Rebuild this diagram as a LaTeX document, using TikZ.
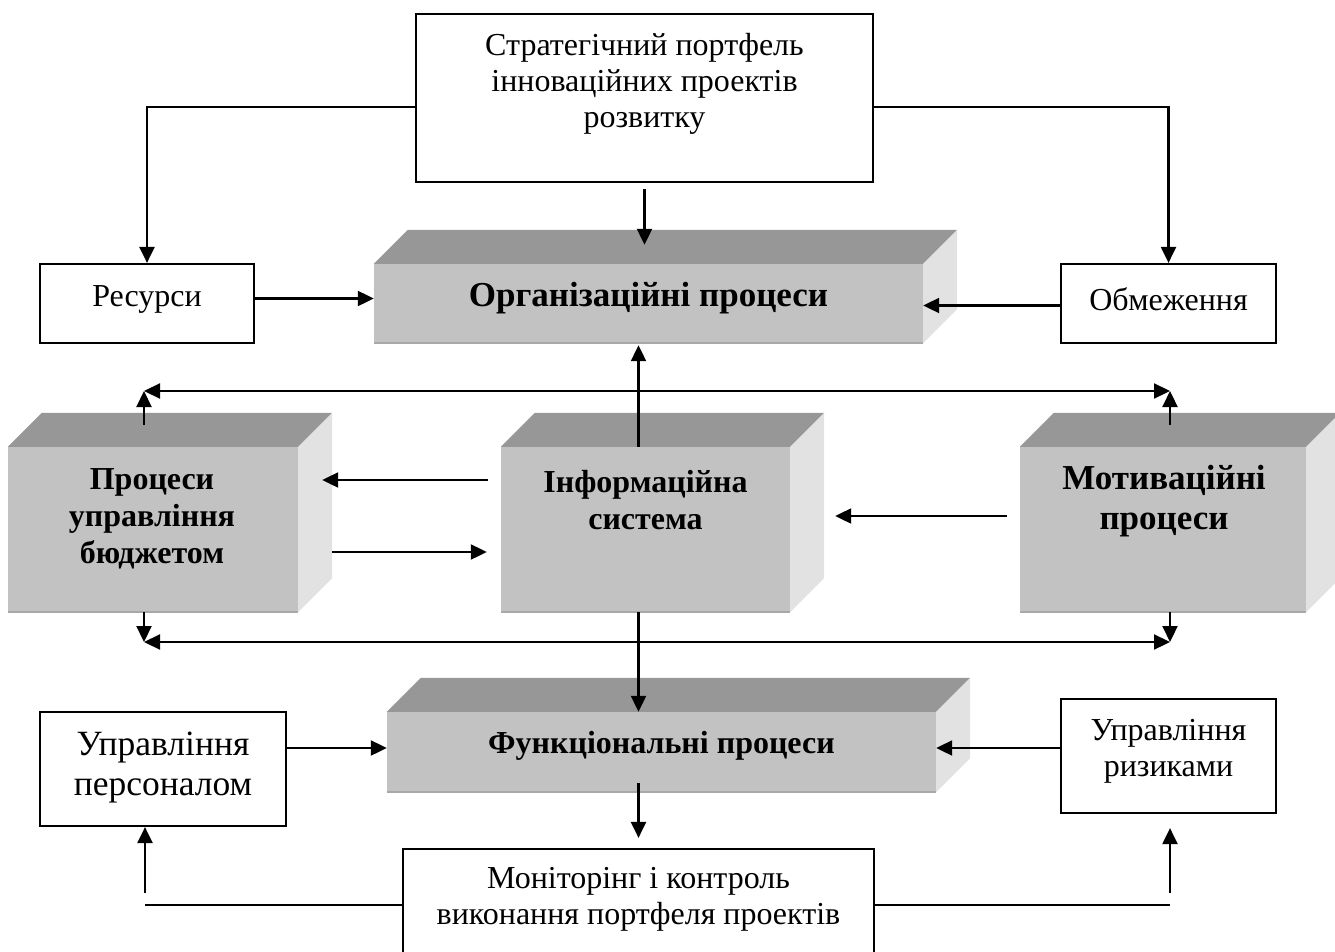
\documentclass[tikz,border=0pt]{standalone}
\usepackage{fontspec}
\setmainfont{Liberation Serif}
\usetikzlibrary{arrows.meta,calc}
\definecolor{topc}{HTML}{979797}
\definecolor{frontc}{HTML}{C2C2C2}
\definecolor{sidec}{HTML}{E2E2E2}
\definecolor{edgec}{HTML}{A8A8A8}
\begin{document}
\begin{tikzpicture}[x=1pt,y=-1pt,
  flat/.style={draw=black, line width=2.2pt, fill=white, inner sep=0pt},
  face/.style={fill=frontc, inner sep=0pt},
  txt/.style={align=center, font=\fontsize{32}{36}\selectfont, inner sep=0pt},
  btxt/.style={align=center, font=\fontsize{32}{37}\selectfont\bfseries, inner sep=0pt},
  arr/.style={line width=2.2pt, -{Triangle[length=16pt,width=15pt]}},
  arrb/.style={line width=2.2pt, {Triangle[length=16pt,width=15pt]}-{Triangle[length=16pt,width=15pt]}},
  ln/.style={line width=2.2pt}]
\useasboundingbox (0,0) rectangle (1335,952);

% flat boxes
\node[flat, minimum width=457pt, minimum height=168pt] (top) at (644.5,98) {};
\node[flat, minimum width=214pt, minimum height=79pt] (res) at (147,303.5) {};
\node[flat, minimum width=215pt, minimum height=79pt] (obm) at (1168.5,303.5) {};
\node[flat, minimum width=246pt, minimum height=114pt] (pers) at (163,769) {};
\node[flat, minimum width=215pt, minimum height=114pt] (riz) at (1168.5,756) {};
\node[flat, minimum width=471pt, minimum height=112pt] (mon) at (638.5,905) {};

% 3D boxes: front faces
\node[face, minimum width=549pt, minimum height=79pt] (org) at (648.5,303.5) {};
\node[face, minimum width=290pt, minimum height=165pt] (bud) at (153,529.5) {};
\node[face, minimum width=289pt, minimum height=165pt] (info) at (645.5,529.5) {};
\node[face, minimum width=286pt, minimum height=165pt] (mot) at (1163,529.5) {};
\node[face, minimum width=549pt, minimum height=80pt] (func) at (661.5,752) {};

\foreach \n in {org,bud,info,mot,func}{
  \fill[topc] (\n.north west) -- ++(34,-34) -- ($(\n.north east)+(34,-34)$) -- (\n.north east) -- cycle;
  \fill[sidec] (\n.north east) -- ++(34,-34) -- ($(\n.south east)+(34,-34)$) -- (\n.south east) -- cycle;
  \draw[edgec, line width=1.5pt] (\n.south west) -- (\n.south east);
}

% texts
\node[txt] (toptx) at (644.5,84) {Стратегічний портфель\\інноваційних проектів\\розвитку};
\node[txt] (restx) at (147,299) {Ресурси};
\node[txt] (obmtx) at (1168.5,299) {Обмеження};
\node[txt, font=\fontsize{35.5}{40}\selectfont] (perstx) at (163,768) {Управління\\персоналом};
\node[txt] (riztx) at (1168.5,751) {Управління\\ризиками};
\node[txt] (montx) at (638.5,899) {Моніторінг і контроль\\виконання портфеля проектів};
\node[btxt, font=\fontsize{35}{40}\selectfont\bfseries] (orgtx) at (648.5,298) {Організаційні процеси};
\node[btxt] (budtx) at (152,519) {Процеси\\управління\\бюджетом};
\node[btxt] (infotx) at (645.5,500) {Інформаційна\\система};
\node[btxt, font=\fontsize{35}{40}\selectfont\bfseries] (mottx) at (1164,501) {Мотиваційні\\процеси};
\node[btxt] (functx) at (661.5,746) {Функціональні процеси};

% connectors
\draw[arr] ([yshift=-6pt]top.south) -- ([yshift=19pt]top.south |- org.north);
\draw[arr] ([yshift=-9pt]top.west) -| (res.north);
\draw[arr] ([yshift=-9pt]top.east) -| (obm.north);
\draw[arr] ([yshift=5pt]res.east) -- ([yshift=5pt]res.east -| org.west);
\draw[arr] ([yshift=-2pt]obm.west) -- ([yshift=-2pt]obm.west -| org.east);
\draw[arr] ([xshift=-7pt]info.north) -- ([xshift=-7pt,yshift=-2pt]info.north |- org.south);

\coordinate (tl) at (144,391);
\coordinate (tr) at (1170,391);
\coordinate (bl) at (144,642);
\coordinate (br) at (1170,642);
\draw[arrb] (tl) -- (tr);
\draw[arrb] (bl) -- (br);
\draw[arr] ($(bud.north -| tl)+(0,-22)$) -- (tl);
\draw[arr] ($(mot.north -| tr)+(0,-22)$) -- (tr);
\draw[arr] (bud.south -| bl) -- (bl);
\draw[arr] (mot.south -| br) -- (br);

\draw[arr] ($(info.west)+(-13,-49.5)$) -- ($(bud.east)+(24,-49.5)$);
\draw[arr] ($(bud.east)+(34,22.5)$) -- ($(info.west)+(-14,22.5)$);
\draw[arr] ($(mot.west)+(-13,-13.5)$) -- ($(info.east)+(45,-13.5)$);
\draw[arr] ([xshift=-7pt]info.south) -- ([xshift=-7pt]info.south |- func.north);

\draw[arr] ([yshift=21pt]pers.east) -- ([yshift=21pt]pers.east -| func.west);
\draw[arr] ([yshift=8pt]riz.west) -- ([yshift=8pt]riz.west -| func.east);
\draw[arr] ([yshift=9pt]mon.north |- func.south) -- ([yshift=10pt]mon.north);

\coordinate (pl) at (145,905);
\coordinate (pr) at (1170,905);
\draw[ln] (mon.west) -- (pl);
\draw[ln] (mon.east) -- (pr);
\draw[arr] ($(pl)+(0,-12)$) -- (pl |- pers.south);
\draw[arr] ($(pr)+(0,-12)$) -- ([yshift=-14pt]pr |- riz.south);
\end{tikzpicture}
\end{document}
